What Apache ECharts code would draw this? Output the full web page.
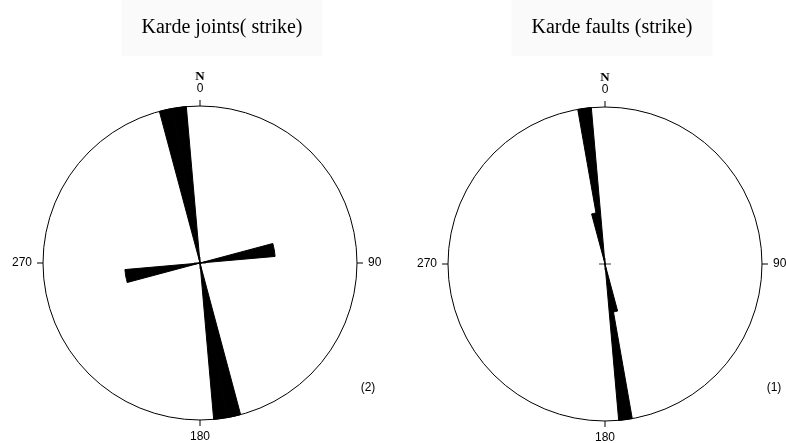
<!DOCTYPE html>
<html>
<head>
<meta charset="utf-8">
<script src="https://cdn.jsdelivr.net/npm/echarts@6/dist/echarts.min.js"></script>
<style>
html, body { margin: 0; padding: 0; background: #fff; }
#main { width: 786px; height: 443px; }
</style>
</head>
<body>
<div id="main"></div>
<script>
// rose diagrams of strike directions, 5 degree bins, radius = relative frequency
const binWidth = 5;
const titles = ['Karde joints( strike)', 'Karde faults (strike)'];
const countLabels = ['(2)', '(1)'];
const tickLabels = ['0', '90', '180', '270'];

// bin start angle -> petal length (both ends of each strike are plotted)
const jointBins = [75, 80, 165, 170, 255, 260, 345, 350];
const jointValues = [0.48, 0.48, 1, 1, 0.48, 0.48, 1, 1];
const faultBins = [165, 170, 345, 350];
const faultValues = [0.31, 1, 0.33, 1];

let categories = [];
for (let a = 0; a < 360; a += binWidth) {
    categories.push(String(a));
}

function binData(bins, values) {
    let arr = categories.map(() => 0);
    bins.forEach((b, i) => { arr[b / binWidth] = values[i]; });
    return arr;
}

const centers = [[200, 263], [605, 264]];
const R = 157;

// frame axes: circle, ticks and labels every 90 degrees
function frameAxis(i) {
    return {
        polarIndex: i,
        type: 'value',
        min: 0,
        max: 360,
        interval: 90,
        startAngle: 90,
        clockwise: true,
        axisLine: { show: true, lineStyle: { color: '#000', width: 1 } },
        axisTick: { show: true, inside: false, length: 6, lineStyle: { color: '#000', width: 1 } },
        axisLabel: {
            margin: 11,
            color: '#000',
            fontFamily: 'Liberation Sans',
            fontSize: 12,
            formatter: function (v) {
                if (v === 360) return '';
                if (v === 0) return '{n|N}\n{d|0}';
                return tickLabels[v / 90];
            },
            rich: {
                n: { fontFamily: 'Liberation Serif', fontWeight: 'bold', fontSize: 13, color: '#000', lineHeight: 12 },
                d: { fontFamily: 'Liberation Sans', fontSize: 12, color: '#000', lineHeight: 12 }
            }
        },
        splitLine: { show: false },
        splitArea: { show: false }
    };
}

// bin axes: 72 bands of 5 degrees for the petals
function binAxis(i) {
    return {
        polarIndex: i,
        type: 'category',
        data: categories,
        boundaryGap: true,
        startAngle: 90,
        clockwise: true,
        axisLine: { show: false },
        axisTick: { show: false },
        axisLabel: { show: false },
        splitLine: { show: false },
        splitArea: { show: false }
    };
}

function hiddenRadius(i) {
    return {
        polarIndex: i,
        type: 'value',
        min: 0,
        max: 1,
        axisLine: { show: false },
        axisTick: { show: false },
        axisLabel: { show: false },
        splitLine: { show: false },
        splitArea: { show: false }
    };
}

// left is shifted by the horizontal padding so the text centres on x
function titleItem(text, x) {
    return {
        text: text,
        left: x - 20,
        top: 0,
        textAlign: 'center',
        padding: [18, 20],
        backgroundColor: '#fafafa',
        textStyle: { fontFamily: 'Liberation Serif', fontWeight: 'normal', fontSize: 20, color: '#000' }
    };
}

function crossSeries(i) {
    return {
        type: 'scatter',
        coordinateSystem: 'polar',
        polarIndex: i,
        symbol: 'path://M0 5H10M5 0V10',
        symbolSize: 12,
        itemStyle: { color: 'none', borderColor: '#000', borderWidth: 1 },
        silent: true,
        z: 1,
        data: [[0, 0]]
    };
}

function petalSeries(i, data) {
    return {
        type: 'bar',
        coordinateSystem: 'polar',
        polarIndex: i,
        barCategoryGap: '0%',
        itemStyle: { color: '#000', borderColor: '#000', borderWidth: 1 },
        silent: true,
        z: 2,
        data: data
    };
}

let chart = echarts.init(document.getElementById('main'), null, { renderer: 'canvas' });
let option = {
    animation: false,
    backgroundColor: '#fff',
    title: [titleItem(titles[0], 222), titleItem(titles[1], 612)],
    polar: [
        { center: centers[0], radius: R },
        { center: centers[1], radius: R },
        { center: centers[0], radius: R },
        { center: centers[1], radius: R }
    ],
    angleAxis: [frameAxis(0), frameAxis(1), binAxis(2), binAxis(3)],
    radiusAxis: [hiddenRadius(0), hiddenRadius(1), hiddenRadius(2), hiddenRadius(3)],
    graphic: [
        { type: 'text', x: 368, y: 388, style: { text: countLabels[0], font: '12px "Liberation Sans"', fill: '#000', align: 'center', verticalAlign: 'middle' } },
        { type: 'text', x: 774, y: 388, style: { text: countLabels[1], font: '12px "Liberation Sans"', fill: '#000', align: 'center', verticalAlign: 'middle' } }
    ],
    series: [
        crossSeries(0),
        crossSeries(1),
        petalSeries(2, binData(jointBins, jointValues)),
        petalSeries(3, binData(faultBins, faultValues))
    ]
};
chart.setOption(option);
</script>
</body>
</html>
